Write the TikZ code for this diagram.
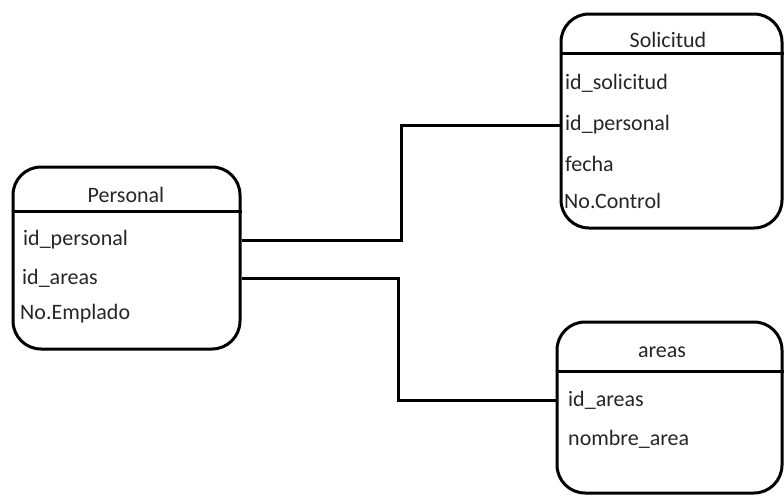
\documentclass[tikz,border=0pt]{standalone}
\usepackage{fontspec}
\setmainfont{Carlito}
\begin{document}
\begin{tikzpicture}[x=1pt,y=-1pt,
  ent/.style={draw, line width=3pt, rounded corners=28pt, inner sep=0pt},
  ttl/.style={font=\fontsize{22}{24}\selectfont, text=black!85, inner sep=0pt, anchor=center},
  fld/.style={font=\fontsize{22}{24}\selectfont, text=black!85, inner sep=0pt, anchor=west},
  sep/.style={line width=3pt},
  conn/.style={line width=3pt}]
\useasboundingbox (0,0) rectangle (784,496);
% Personal
\node[ent, minimum width=227pt, minimum height=182pt] (P) at (126.5,258) {};
\coordinate (Pd) at (0,211);
\draw[sep] (P.west |- Pd) -- (P.east |- Pd);
\node[ttl] (Pt) at (126,195) {Personal};
\node[fld] (Pf1) at (23,240) {id\_personal};
\node[fld] (Pf2) at (22,278) {id\_areas};
\node[fld] (Pf3) at (20,314) {No.Emplado};
% Solicitud
\node[ent, minimum width=221pt, minimum height=214pt] (S) at (671.5,121) {};
\coordinate (Sd) at (0,53);
\draw[sep] (S.west |- Sd) -- (S.east |- Sd);
\node[ttl] (St) at (668,40) {Solicitud};
\node[fld] (Sf1) at (565,83) {id\_solicitud};
\node[fld] (Sf2) at (565,125) {id\_personal};
\node[fld] (Sf3) at (565,164) {fecha};
\node[fld] (Sf4) at (564,201) {No.Control};
% areas
\node[ent, minimum width=225pt, minimum height=171pt] (A) at (669.5,407.5) {};
\coordinate (Ad) at (0,371);
\draw[sep] (A.west |- Ad) -- (A.east |- Ad);
\node[ttl] (At) at (662,352) {areas};
\node[fld] (Af1) at (568,400) {id\_areas};
\node[fld] (Af2) at (568,439) {nombre\_area};
% connectors
\coordinate (m1) at (401,0);
\coordinate (m2) at (398,0);
\draw[conn] (P.east |- Pf1.center) -- (m1 |- Pf1.center) |- (S.west |- Sf2.center);
\draw[conn] (P.east |- Pf2.center) -- (m2 |- Pf2.center) |- (A.west |- Af1.center);
\end{tikzpicture}
\end{document}
